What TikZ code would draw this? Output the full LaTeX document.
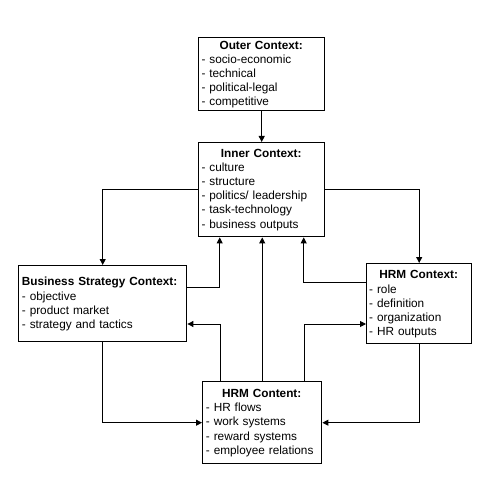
\documentclass[tikz,border=0pt]{standalone}
\usepackage{fontspec}
\setmainfont{Liberation Sans}
\usetikzlibrary{arrows.meta,positioning}
\begin{document}
\begin{tikzpicture}[x=1pt,y=-1pt,
  box/.style={draw=black,line width=1.4pt,inner sep=0pt,anchor=north west},
  txt/.style={inner sep=0pt,anchor=north west,font=\fontsize{11.8}{14.2}\selectfont,align=left},
  arr/.style={line width=0.9pt,-{Triangle[length=6pt,width=6pt]}}]
\useasboundingbox (0,0) rectangle (489,489);
% boxes
\node[box,minimum width=126pt,minimum height=73pt] (outer) at (198,37) {};
\node[box,minimum width=126pt,minimum height=94pt] (inner) at (198,142) {};
\node[box,minimum width=168pt,minimum height=76pt] (bsc) at (18,265) {};
\node[box,minimum width=105pt,minimum height=80pt] (hrmctx) at (366,263) {};
\node[box,minimum width=119pt,minimum height=82pt] (content) at (202,381) {};
% texts
\node[txt,text width=119.4pt] (outer-t) at (201.3,40.7) {{\centering\textbf{Outer Context:}\par}- socio-economic\\- technical\\- political-legal\\- competitive};
\node[txt,text width=119.4pt] (inner-t) at (201.3,148.7) {{\centering\textbf{Inner Context:}\par}- culture\\- structure\\- politics/ leadership\\- task-technology\\- business outputs};
\node[txt,text width=160pt] (bsc-t) at (21.7,277.1) {\textbf{Business Strategy Context:}\\- objective\\- product market\\- strategy and tactics};
\node[txt,text width=99pt] (hrmctx-t) at (369,270.4) {{\centering\textbf{HRM Context:}\par}- role\\- definition\\- organization\\- HR outputs};
\node[txt,text width=111.6pt] (content-t) at (205.7,389.1) {{\centering\textbf{HRM Content:}\par}- HR flows\\- work systems\\- reward systems\\- employee relations};
% connectors
\draw[arr] (outer.south) -- (inner.north);
\draw[arr] (inner.west) -| (bsc.north);
\draw[arr] (inner.east) -| (hrmctx.north);
\draw[arr] (bsc.east |- 0,287) -| ([xshift=-42pt]inner.south);
\draw[arr] (hrmctx.west |- 0,282) -| ([xshift=42pt]inner.south);
\draw[arr] (content.north) -- (content.north |- inner.south);
\draw[arr] ([xshift=-42pt]content.north) |- (bsc.east |- 0,324);
\draw[arr] ([xshift=42pt]content.north) |- (hrmctx.west |- 0,324);
\draw[arr] (bsc.south) |- (content.west);
\draw[arr] (hrmctx.south) |- (content.east);
\end{tikzpicture}
\end{document}
